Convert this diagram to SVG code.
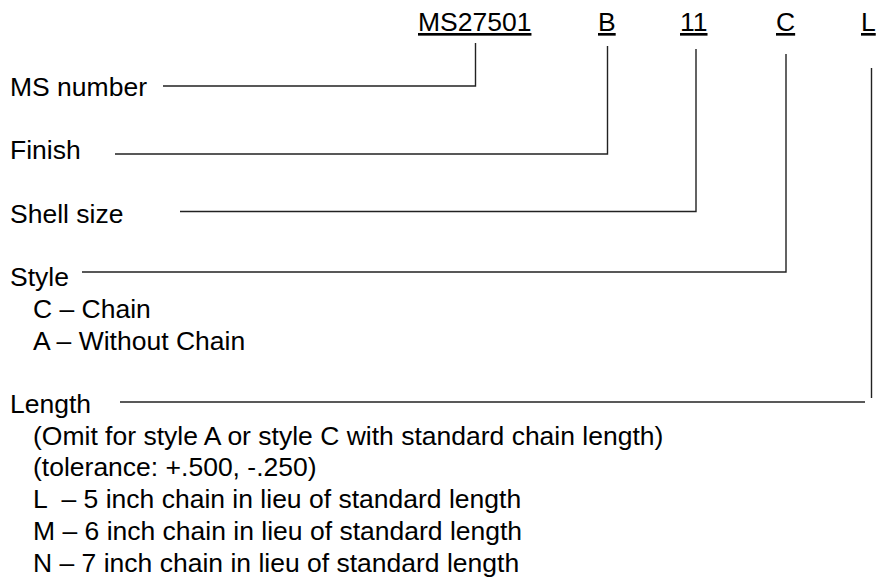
<svg xmlns="http://www.w3.org/2000/svg" width="877" height="580" viewBox="0 0 877 580">
<style>
text{font-family:"Liberation Sans",Arial,sans-serif;font-size:26.5px;fill:#000}
.u{text-decoration:underline}
.c{fill:none;stroke:#222;stroke-width:1.4}
</style>
<rect width="877" height="580" fill="#fff"/>
<g id="code">
<text class="u" x="418" y="31">MS27501</text>
<text class="u" x="598" y="31">B</text>
<text class="u" x="680" y="31">11</text>
<text class="u" x="776" y="31">C</text>
<text class="u" x="861" y="31">L</text>
</g>
<g id="ms-number"><text x="10" y="96">MS number</text></g>
<g id="finish"><text x="10" y="159.4">Finish</text></g>
<g id="shell-size"><text x="10" y="222.8">Shell size</text></g>
<g id="style">
<text x="10" y="286.2">Style</text>
<text x="33" y="317.9">C – Chain</text>
<text x="33" y="349.6">A – Without Chain</text>
</g>
<g id="length">
<text x="10" y="413">Length</text>
<text x="33" y="444.7">(Omit for style A or style C with standard chain length)</text>
<text x="33" y="476.4">(tolerance: +.500, -.250)</text>
<text x="33" y="508.1" xml:space="preserve">L  – 5 inch chain in lieu of standard length</text>
<text x="33" y="539.8">M – 6 inch chain in lieu of standard length</text>
<text x="33" y="571.5">N – 7 inch chain in lieu of standard length</text>
</g>
<g id="connectors">
<polyline class="c" points="163,86 475.5,86 475.5,43"/>
<polyline class="c" points="115,154 607.5,154 607.5,46"/>
<polyline class="c" points="180,211.5 696,211.5 696,49"/>
<polyline class="c" points="82,272 786,272 786,54"/>
<line class="c" x1="120" y1="402" x2="865" y2="402"/>
<line class="c" x1="871.5" y1="68" x2="871.5" y2="398"/>
</g>
</svg>
